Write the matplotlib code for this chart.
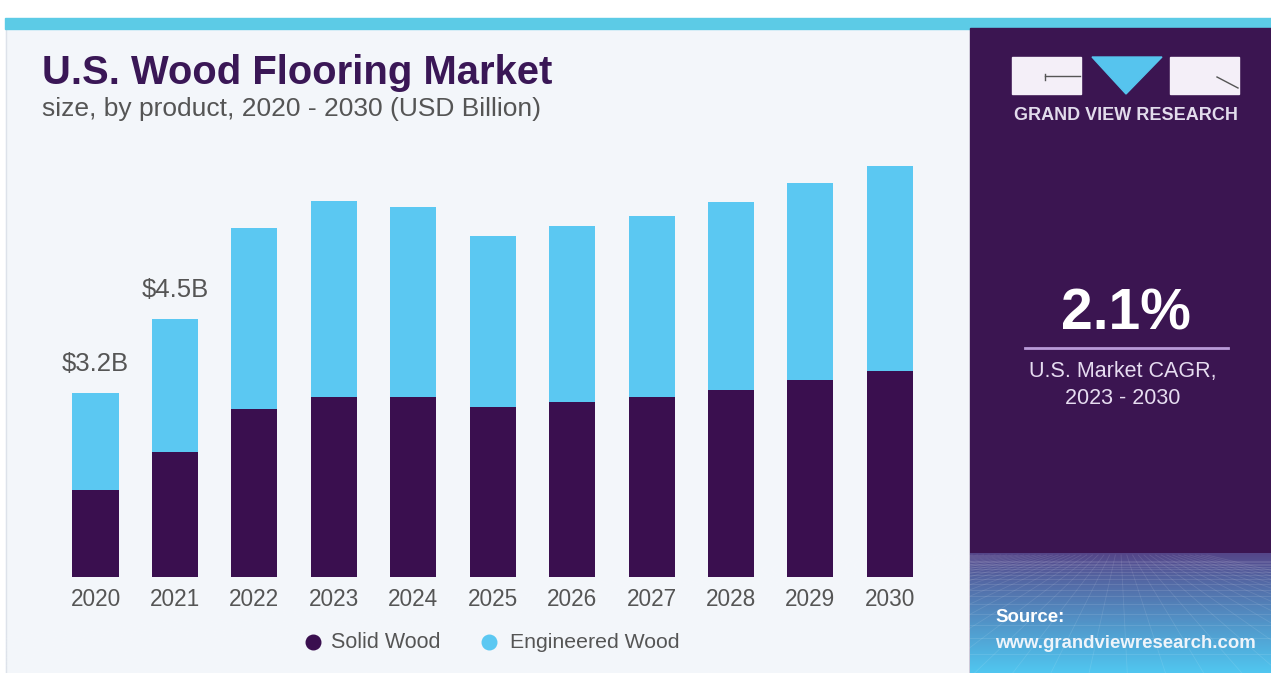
import numpy as np
import matplotlib
matplotlib.use("Agg")
import matplotlib.pyplot as plt
from matplotlib.patches import Rectangle, Polygon
from matplotlib.lines import Line2D

plt.rcParams['font.family'] = ['Liberation Sans', 'DejaVu Sans']

# market size by product, USD billion
years = ['2020', '2021', '2022', '2023', '2024', '2025', '2026', '2027', '2028', '2029', '2030']
solid_wood = [1.53, 2.20, 2.95, 3.17, 3.17, 2.99, 3.08, 3.17, 3.29, 3.46, 3.62]
engineered_wood = [1.70, 2.34, 3.19, 3.44, 3.34, 3.01, 3.10, 3.18, 3.30, 3.46, 3.61]
total_labels = {0: '$3.2B', 1: '$4.5B'}
cagr_text = '2.1%'

SOLID = '#3a0f4f'
ENGINEERED = '#5bc8f2'
PANEL = '#3b1551'
TEXT = '#555555'

fig = plt.figure(figsize=(12.71, 6.73), dpi=100)
fig.patch.set_facecolor('white')

# background layer in pixel coordinates
bg = fig.add_axes([0, 0, 1, 1])
bg.set_xlim(0, 1271)
bg.set_ylim(673, 0)
bg.axis('off')

bg.add_patch(Rectangle((6, 28), 964, 645, color='#f3f6fa', zorder=0))
bg.add_line(Line2D([6, 6], [28, 673], color='#dde2ea', lw=1, zorder=1))
bg.add_patch(Rectangle((5, 18), 1266, 11, color='#5ccbe6', zorder=1))
bg.add_patch(Rectangle((970, 28), 301, 645, color=PANEL, zorder=1))

# bottom gradient of the side panel
grad = np.linspace(0, 1, 120)[:, None]
c0 = np.array([0x55, 0x45, 0x88]) / 255
c1 = np.array([0x50, 0xc6, 0xf0]) / 255
img = (c0 + (c1 - c0) * grad[:, :, None] ** 0.9) * np.ones((120, 10, 3))
bg.imshow(img, extent=(970, 1271, 673, 553), aspect='auto', zorder=2)
for yy in np.geomspace(6, 118, 18):
    bg.add_line(Line2D([970, 1271], [555 + yy, 555 + yy], color='white', lw=0.6, alpha=0.12, zorder=3))
for xx in np.linspace(-400, 1700, 56):
    bg.add_line(Line2D([1120 + (xx - 1120) * 0.15, xx], [555, 673], color='white', lw=0.6, alpha=0.1, zorder=3))
bg.set_xlim(0, 1271)
bg.set_ylim(673, 0)

# logo
bg.add_patch(Rectangle((1012, 57), 69, 37, color='#f4eff8', zorder=4))
bg.add_patch(Polygon([(1092, 57), (1162, 57), (1126, 94)], color='#56c4ee', zorder=4))
bg.add_patch(Rectangle((1170, 57), 69, 37, color='#f4eff8', zorder=4))
bg.add_line(Line2D([1045, 1080], [76, 76], color='#555', lw=1, zorder=5))
bg.add_line(Line2D([1045, 1045], [74, 80], color='#555', lw=1, zorder=5))
bg.add_line(Line2D([1217, 1238], [77, 88], color='#555', lw=1, zorder=5))
bg.text(1126, 116, 'GRAND VIEW RESEARCH', color='#e2dcec', fontsize=13,
        fontweight='bold', ha='center', va='center', zorder=5)

# headline figure
bg.text(1126, 314, cagr_text, color='white', fontsize=41, fontweight='bold',
        ha='center', va='center', zorder=5)
bg.add_line(Line2D([1025, 1228], [348, 348], color='#b99bd8', lw=2, zorder=5))
bg.text(1123, 371, 'U.S. Market CAGR,', color='#e6dcf0', fontsize=15.5,
        ha='center', va='center', zorder=5)
bg.text(1123, 399, '2023 - 2030', color='#e6dcf0', fontsize=15.5,
        ha='center', va='center', zorder=5)
bg.text(995, 618, 'Source:', color='white', fontsize=13.4, fontweight='bold',
        ha='left', va='center', zorder=5)
bg.text(995, 643, 'www.grandviewresearch.com', color='#eef4fa', fontsize=13.4,
        fontweight='bold', ha='left', va='center', zorder=5)

# titles
bg.text(42, 73, 'U.S. Wood Flooring Market', color='#3a1756', fontsize=28.8,
        fontweight='bold', ha='left', va='center', zorder=5)
bg.text(42, 109, 'size, by product, 2020 - 2030 (USD Billion)', color=TEXT,
        fontsize=19, ha='left', va='center', zorder=5)

# legend
bg.scatter([313], [642], s=110, color=SOLID, zorder=5)
bg.text(331, 642, 'Solid Wood', color=TEXT, fontsize=15.5, ha='left', va='center', zorder=5)
bg.scatter([489], [642], s=110, color=ENGINEERED, zorder=5)
bg.text(510, 642, 'Engineered Wood', color=TEXT, fontsize=15.3, ha='left', va='center', zorder=5)

# stacked bars
ax = fig.add_axes([55.8 / 1271, 96 / 673, 873.8 / 1271, 427 / 673])
ax.patch.set_alpha(0)
x = np.arange(len(years))
ax.bar(x, solid_wood, width=0.58, color=SOLID, zorder=2)
ax.bar(x, engineered_wood, width=0.58, bottom=solid_wood, color=ENGINEERED, zorder=2)
for i, label in total_labels.items():
    top = solid_wood[i] + engineered_wood[i]
    ax.text(x[i], top + 0.3, label, color=TEXT, fontsize=18.5, ha='center', va='bottom')
ax.set_xlim(-0.5, 10.5)
ax.set_ylim(0, 427 / 56.875)
ax.set_xticks(x)
ax.set_xticklabels(years, color=TEXT, fontsize=16.3)
ax.tick_params(axis='x', length=0, pad=8)
ax.set_yticks([])
for s in ax.spines.values():
    s.set_visible(False)

fig.savefig('out.png', dpi=100, facecolor=fig.get_facecolor())
